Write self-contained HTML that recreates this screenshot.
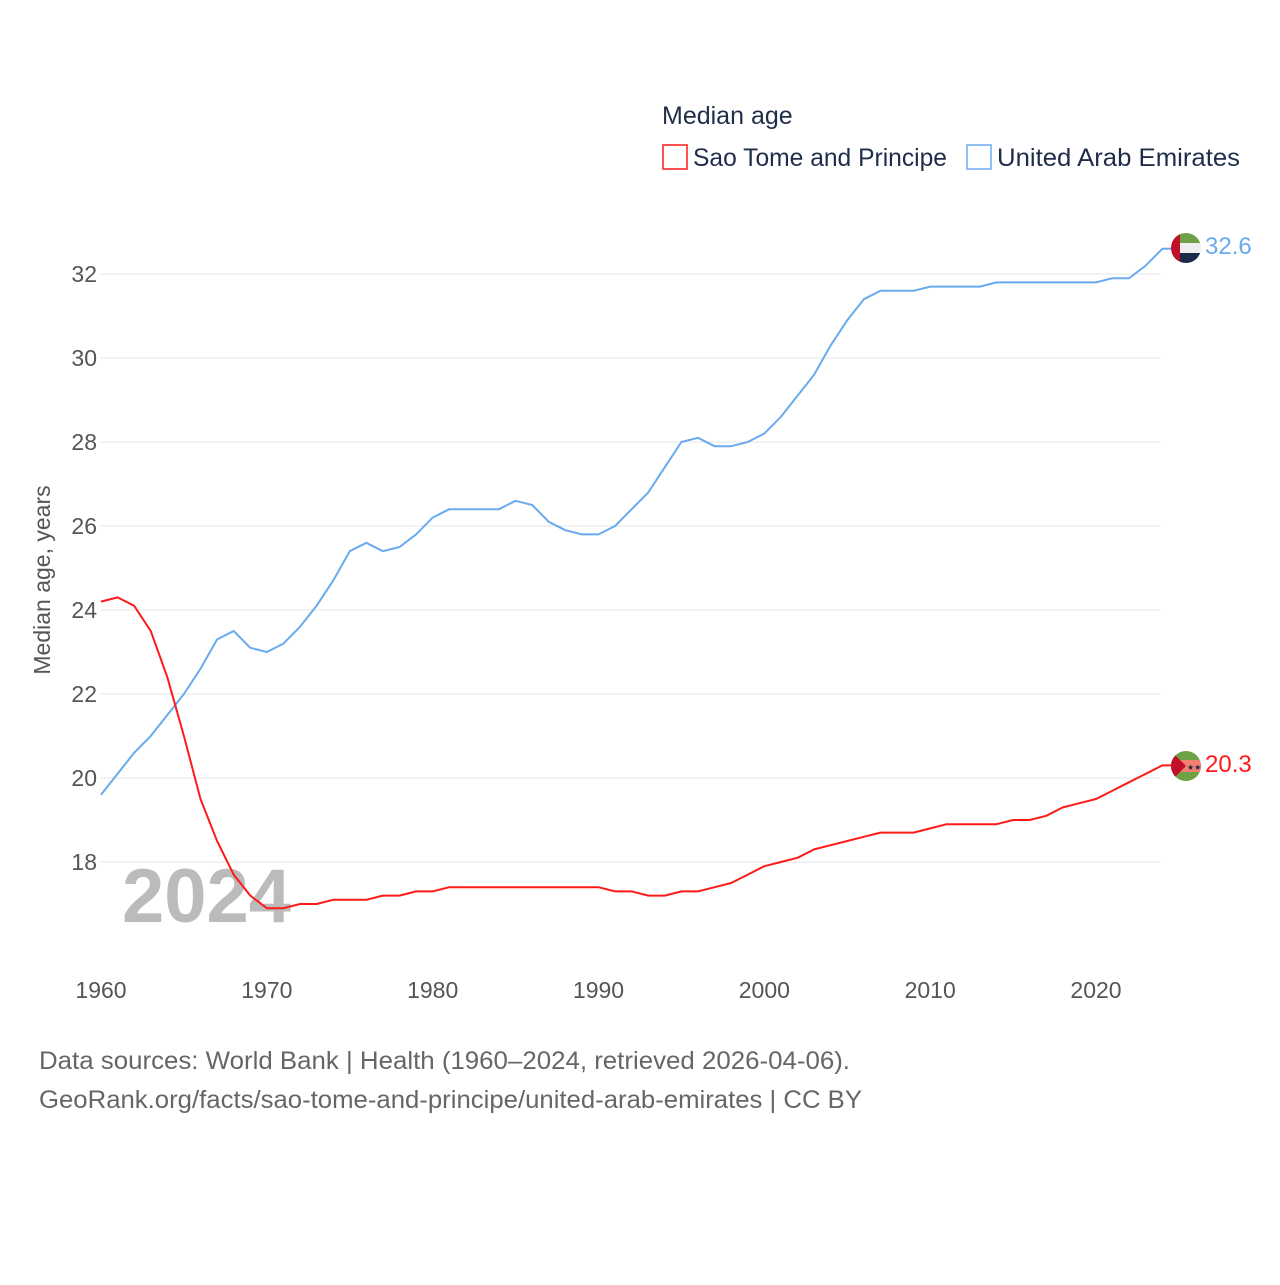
<!DOCTYPE html>
<html><head><meta charset="utf-8">
<style>
html,body{margin:0;padding:0;background:#fff;}
body{width:1280px;height:1280px;overflow:hidden;font-family:"Liberation Sans",sans-serif;}
svg text{font-family:"Liberation Sans",sans-serif;}
</style></head>
<body>
<svg id="chart" width="1280" height="1280" viewBox="0 0 1280 1280" xmlns="http://www.w3.org/2000/svg">
  <text x="662" y="124" font-size="25" fill="#1f2d4a">Median age</text>
  <g>
    <rect x="663" y="145" width="24" height="24" fill="none" stroke="#ff1a1a" stroke-width="1.5"/>
    <text x="693" y="166" font-size="25" fill="#1f2d4a" textLength="254" lengthAdjust="spacingAndGlyphs">Sao Tome and Principe</text>
  </g>
  <g>
    <rect x="967" y="145" width="24" height="24" fill="none" stroke="#6aaaf0" stroke-width="1.5"/>
    <text x="997" y="166" font-size="25" fill="#1f2d4a" textLength="243" lengthAdjust="spacingAndGlyphs">United Arab Emirates</text>
  </g>
  <g id="grid"></g>
  <g id="yticks"></g>
  <g id="xticks"></g>
  <text transform="translate(50,580) rotate(-90)" text-anchor="middle" font-size="23" fill="#555">Median age, years</text>
  <text x="122" y="922" font-size="76" font-weight="bold" fill="#bbbbbb">2024</text>
  <g id="series"></g>
  <g>
    <clipPath id="c1"><circle cx="1186" cy="248" r="15"/></clipPath>
    <g clip-path="url(#c1)">
      <rect x="1171" y="233" width="30" height="10" fill="#6ea146"/>
      <rect x="1171" y="243" width="30" height="10" fill="#eeeeee"/>
      <rect x="1171" y="253" width="30" height="10" fill="#1b2a4a"/>
      <rect x="1171" y="233" width="9" height="30" fill="#c0102a"/>
    </g>
  </g>
  <g>
    <clipPath id="c2"><circle cx="1186" cy="766" r="15"/></clipPath>
    <g clip-path="url(#c2)">
      <rect x="1171" y="751" width="30" height="30" fill="#6ea146"/>
      <rect x="1171" y="760" width="30" height="12" fill="#f08070"/>
      <polygon points="1171,751 1186,766 1171,781" fill="#c0102a"/>
      <text x="1187" y="770" font-size="8" fill="#1b2a4a">★★</text>
    </g>
  </g>
  <text x="1205" y="254" font-size="24" fill="#6aaaf0">32.6</text>
  <text x="1205" y="772" font-size="24" fill="#ff1a1a">20.3</text>
  <text x="39" y="1069" font-size="25" fill="#666" textLength="811" lengthAdjust="spacingAndGlyphs">Data sources: World Bank | Health (1960–2024, retrieved 2026-04-06).</text>
  <text x="39" y="1108" font-size="25" fill="#666" textLength="823" lengthAdjust="spacingAndGlyphs">GeoRank.org/facts/sao-tome-and-principe/united-arab-emirates | CC BY</text>
</svg>
<script>
const years = [];
for (let y = 1960; y <= 2024; y++) years.push(y);
const uaeValues = [19.6,20.1,20.6,21.0,21.5,22.0,22.6,23.3,23.5,23.1,23.0,23.2,23.6,24.1,24.7,25.4,25.6,25.4,25.5,25.8,26.2,26.4,26.4,26.4,26.4,26.6,26.5,26.1,25.9,25.8,25.8,26.0,26.4,26.8,27.4,28.0,28.1,27.9,27.9,28.0,28.2,28.6,29.1,29.6,30.3,30.9,31.4,31.6,31.6,31.6,31.7,31.7,31.7,31.7,31.8,31.8,31.8,31.8,31.8,31.8,31.8,31.9,31.9,32.2,32.6];
const stpValues = [24.2,24.3,24.1,23.5,22.4,21.0,19.5,18.5,17.7,17.2,16.9,16.9,17.0,17.0,17.1,17.1,17.1,17.2,17.2,17.3,17.3,17.4,17.4,17.4,17.4,17.4,17.4,17.4,17.4,17.4,17.4,17.3,17.3,17.2,17.2,17.3,17.3,17.4,17.5,17.7,17.9,18.0,18.1,18.3,18.4,18.5,18.6,18.7,18.7,18.7,18.8,18.9,18.9,18.9,18.9,19.0,19.0,19.1,19.3,19.4,19.5,19.7,19.9,20.1,20.3];
const yTickValues = [18,20,22,24,26,28,30,32];
const xTickValues = [1960,1970,1980,1990,2000,2010,2020];

const NS = "http://www.w3.org/2000/svg";
const xScale = yr => 101 + (yr - 1960) * (1096 - 101) / 60;
const yScale = v => 274 + (32 - v) * 42;
function mk(tag, attrs, parent) {
  const e = document.createElementNS(NS, tag);
  for (const k in attrs) e.setAttribute(k, attrs[k]);
  parent.appendChild(e);
  return e;
}
const grid = document.getElementById('grid');
const yt = document.getElementById('yticks');
yTickValues.forEach(v => {
  const l = mk('line', {x1: 101, x2: 1161, y1: yScale(v), y2: yScale(v), stroke: '#e6e6e6', 'stroke-width': 1}, grid);
  
  
  const t = mk('text', {x: 97, y: yScale(v) + 8, 'text-anchor': 'end', 'font-size': 23, fill: '#555'}, yt);
  t.textContent = v;
  
  
});
const xt = document.getElementById('xticks');
xTickValues.forEach(v => {
  const t = mk('text', {x: xScale(v), y: 998, 'text-anchor': 'middle', 'font-size': 23, fill: '#555'}, xt);
  t.textContent = v;
  
  
});
const series = document.getElementById('series');
function drawLine(vals, color, name) {
  const pts = vals.map((v, i) => xScale(years[i]) + ',' + yScale(v));
  const last = vals[vals.length - 1];
  pts.push((xScale(years[years.length - 1]) + 10) + ',' + yScale(last));
  const p = mk('polyline', {points: pts.join(' '), fill: 'none', stroke: color, 'stroke-width': 2, 'stroke-linejoin': 'round'}, series);
  
  
}
drawLine(uaeValues, '#6aaaf0', 'uae-line');
drawLine(stpValues, '#ff1a1a', 'sao-tome-line');
</script>
</body></html>
